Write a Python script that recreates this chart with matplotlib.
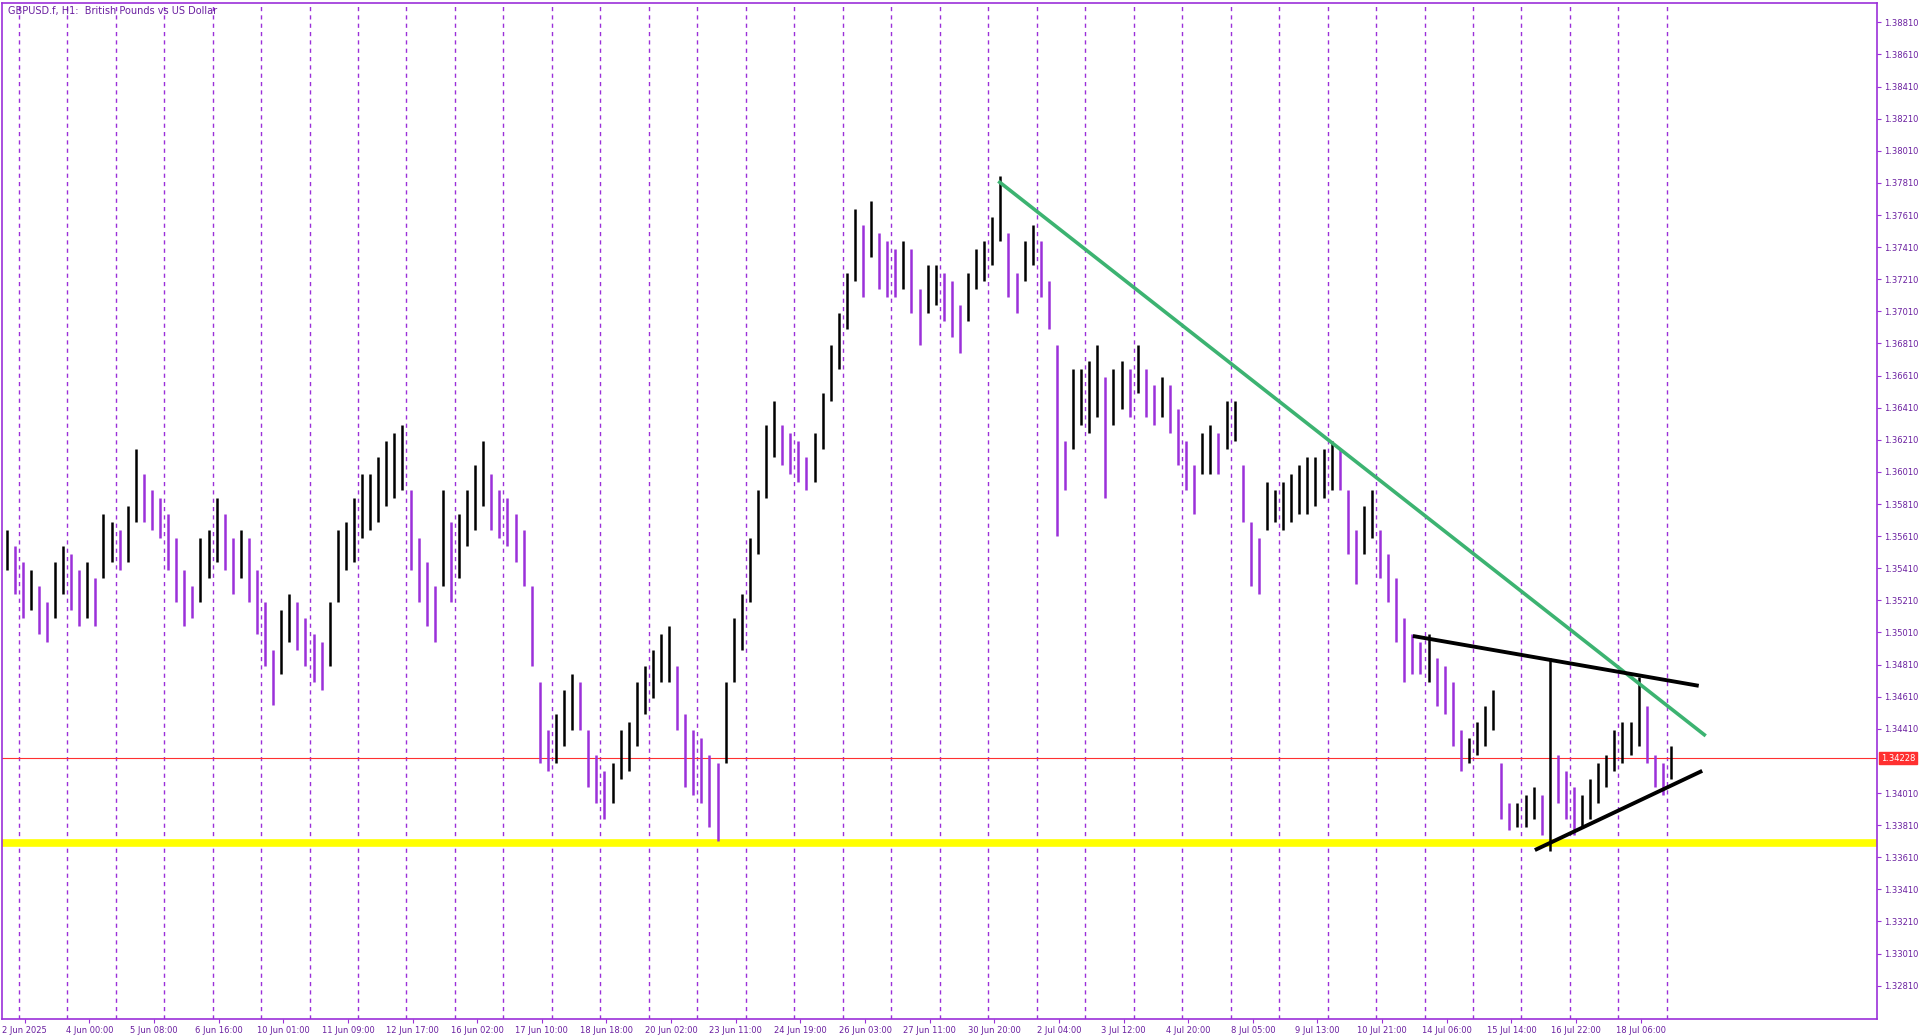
import matplotlib
matplotlib.use("Agg")
import matplotlib.pyplot as plt
import numpy as np

title = "GBPUSD.f, H1:  British Pounds vs US Dollar"
bar_hours = 4  # each sample spans 4 hourly bars
highs = [1.3565,1.3555,1.3545,1.3540,1.3530,1.3520,1.3545,1.3555,1.3550,1.3540,1.3545,1.3535,1.3575,1.3570,1.3565,1.3580,1.3615,1.3600,1.3590,1.3585,
         1.3575,1.3560,1.3540,1.3530,1.3560,1.3565,1.3585,1.3575,1.3560,1.3565,1.3560,1.3540,1.3520,1.3490,1.3515,1.3525,1.3520,1.3510,1.3500,1.3495,
         1.3520,1.3565,1.3570,1.3585,1.3600,1.3600,1.3610,1.3620,1.3625,1.3630,1.3590,1.3560,1.3545,1.3530,1.3590,1.3570,1.3575,1.3590,1.3605,1.3620,
         1.3600,1.3590,1.3585,1.3575,1.3565,1.3530,1.3470,1.3440,1.3450,1.3465,1.3475,1.3470,1.3440,1.3425,1.3415,1.3420,1.3440,1.3445,1.3470,1.3480,
         1.3490,1.3500,1.3505,1.3480,1.3450,1.3440,1.3435,1.3425,1.3420,1.3470,1.3510,1.3525,1.3560,1.3590,1.3630,1.3645,1.3630,1.3625,1.3620,1.3610,
         1.3625,1.3650,1.3680,1.3700,1.3725,1.3765,1.3755,1.3770,1.3750,1.3745,1.3740,1.3745,1.3740,1.3715,1.3730,1.3730,1.3725,1.3720,1.3705,1.3725,
         1.3740,1.3745,1.3760,1.3785,1.3750,1.3725,1.3745,1.3755,1.3745,1.3720,1.3680,1.3620,1.3665,1.3665,1.3670,1.3680,1.3660,1.3665,1.3670,1.3665,
         1.3680,1.3665,1.3655,1.3660,1.3655,1.3640,1.3620,1.3605,1.3625,1.3630,1.3625,1.3645,1.3645,1.3605,1.3570,1.3560,1.3595,1.3590,1.3595,1.3600,
         1.3605,1.3610,1.3610,1.3615,1.3620,1.3615,1.3590,1.3565,1.3580,1.3590,1.3565,1.3550,1.3535,1.3510,1.3500,1.3495,1.3500,1.3485,1.3480,1.3470,
         1.3440,1.3435,1.3445,1.3455,1.3465,1.3420,1.3395,1.3395,1.3400,1.3405,1.3400,1.3485,1.3425,1.3415,1.3405,1.3400,1.3410,1.3420,1.3425,1.3440,
         1.3445,1.3445,1.3473,1.3455,1.3425,1.3420,1.3430]
lows = [1.3540,1.3525,1.3510,1.3515,1.3500,1.3495,1.3510,1.3525,1.3515,1.3505,1.3510,1.3505,1.3535,1.3545,1.3540,1.3545,1.3570,1.3570,1.3565,1.3560,
        1.3540,1.3520,1.3505,1.3510,1.3520,1.3535,1.3545,1.3540,1.3525,1.3535,1.3520,1.3500,1.3480,1.3456,1.3475,1.3495,1.3490,1.3480,1.3470,1.3465,
        1.3480,1.3520,1.3540,1.3545,1.3560,1.3565,1.3570,1.3580,1.3585,1.3590,1.3540,1.3520,1.3505,1.3495,1.3530,1.3520,1.3535,1.3555,1.3565,1.3580,
        1.3565,1.3560,1.3555,1.3545,1.3530,1.3480,1.3420,1.3415,1.3420,1.3430,1.3440,1.3440,1.3405,1.3395,1.3385,1.3395,1.3410,1.3415,1.3430,1.3450,
        1.3460,1.3470,1.3470,1.3440,1.3405,1.3400,1.3395,1.3380,1.3371,1.3420,1.3470,1.3490,1.3520,1.3550,1.3585,1.3610,1.3605,1.3600,1.3595,1.3590,
        1.3595,1.3615,1.3645,1.3665,1.3690,1.3720,1.3710,1.3735,1.3715,1.3710,1.3710,1.3715,1.3700,1.3680,1.3700,1.3705,1.3695,1.3685,1.3675,1.3695,
        1.3715,1.3720,1.3730,1.3745,1.3710,1.3700,1.3720,1.3730,1.3710,1.3690,1.3561,1.3590,1.3615,1.3630,1.3625,1.3635,1.3585,1.3630,1.3640,1.3635,
        1.3650,1.3635,1.3630,1.3635,1.3625,1.3605,1.3590,1.3575,1.3600,1.3600,1.3600,1.3615,1.3620,1.3570,1.3530,1.3525,1.3565,1.3570,1.3565,1.3570,
        1.3575,1.3575,1.3580,1.3585,1.3590,1.3590,1.3550,1.3531,1.3550,1.3560,1.3535,1.3520,1.3495,1.3470,1.3475,1.3475,1.3470,1.3455,1.3450,1.3430,
        1.3415,1.3420,1.3425,1.3430,1.3440,1.3385,1.3378,1.3380,1.3380,1.3385,1.3375,1.3365,1.3395,1.3385,1.3375,1.3380,1.3385,1.3395,1.3405,1.3415,
        1.3420,1.3425,1.3430,1.3420,1.3405,1.3400,1.3410]

price_ticks = [1.32810,1.33010,1.33210,1.33410,1.33610,1.33810,1.34010,1.34410,1.34610,1.34810,1.35010,
               1.35210,1.35410,1.35610,1.35810,1.36010,1.36210,1.36410,1.36610,1.36810,1.37010,1.37210,
               1.37410,1.37610,1.37810,1.38010,1.38210,1.38410,1.38610,1.38810]
time_labels = ["2 Jun 2025","4 Jun 00:00","5 Jun 08:00","6 Jun 16:00","10 Jun 01:00","11 Jun 09:00",
               "12 Jun 17:00","16 Jun 02:00","17 Jun 10:00","18 Jun 18:00","20 Jun 02:00","23 Jun 11:00",
               "24 Jun 19:00","26 Jun 03:00","27 Jun 11:00","30 Jun 20:00","2 Jul 04:00","3 Jul 12:00",
               "4 Jul 20:00","8 Jul 05:00","9 Jul 13:00","10 Jul 21:00","14 Jul 06:00","15 Jul 14:00",
               "16 Jul 22:00","18 Jul 06:00"]
time_tick_hours = [10 + 32 * k for k in range(len(time_labels))]
day_sep_hours = [7 + 24 * k for k in range(35)]
current_price = 1.34228
support = 1.33699
green_line = ([492.7, 841.5], [1.37814, 1.34373])
upper_black = ([698.2, 837.8], [1.34986, 1.34680])
lower_black = ([758.5, 839.6], [1.33660, 1.34143])

PURPLE = "#9B30D9"
fig = plt.figure(figsize=(19.2, 10.35), dpi=100)
ax = fig.add_axes([0.0013, 0.0155, 0.9763, 0.982])
ax.set_xlim(-1, 927)
ax.set_ylim(1.32603, 1.38933)

for h in day_sep_hours:
    ax.axvline(h, color=PURPLE, lw=1.0, ls=(0, (3, 3)), zorder=1)

hi = np.array(highs); lo = np.array(lows)
mid = (hi + lo) / 2
xs = np.arange(len(hi)) * bar_hours + 1
colors = ["black" if i == 0 or mid[i] >= mid[i - 1] else PURPLE for i in range(len(hi))]
ax.vlines(xs, lo, hi, colors=colors, lw=1.8, zorder=3)

ax.axhline(support, color="#FFFF00", lw=5.5, zorder=2)
ax.axhline(current_price, color="#FF3030", lw=0.8, zorder=2)
ax.plot(*green_line, color="#3CB371", lw=2.6, zorder=4)
ax.plot(*upper_black, color="black", lw=2.8, zorder=4)
ax.plot(*lower_black, color="black", lw=2.8, zorder=4)

ax.yaxis.tick_right()
ax.set_yticks(price_ticks)
ax.set_yticklabels([f"{p:.5f}" for p in price_ticks])
ax.set_xticks(time_tick_hours)
ax.set_xticklabels(time_labels)
ax.tick_params(colors=PURPLE, labelsize=6, length=3, width=0.8, pad=2)
for lab in ax.get_yticklabels() + ax.get_xticklabels():
    lab.set_color("#6A1FA0")
for s in ax.spines.values():
    s.set_color(PURPLE)
    s.set_linewidth(1.2)

ax.text(1.002, current_price, f"{current_price:.5f}", transform=ax.get_yaxis_transform(),
        va="center", ha="left", fontsize=6, color="white",
        bbox=dict(boxstyle="square,pad=0.2", fc="#FF3030", ec="#FF3030"))
ax.text(0.003, 0.997, title, transform=ax.transAxes, va="top", ha="left", fontsize=7, color="#6A1FA0")

fig.savefig("out.png", dpi=100)
